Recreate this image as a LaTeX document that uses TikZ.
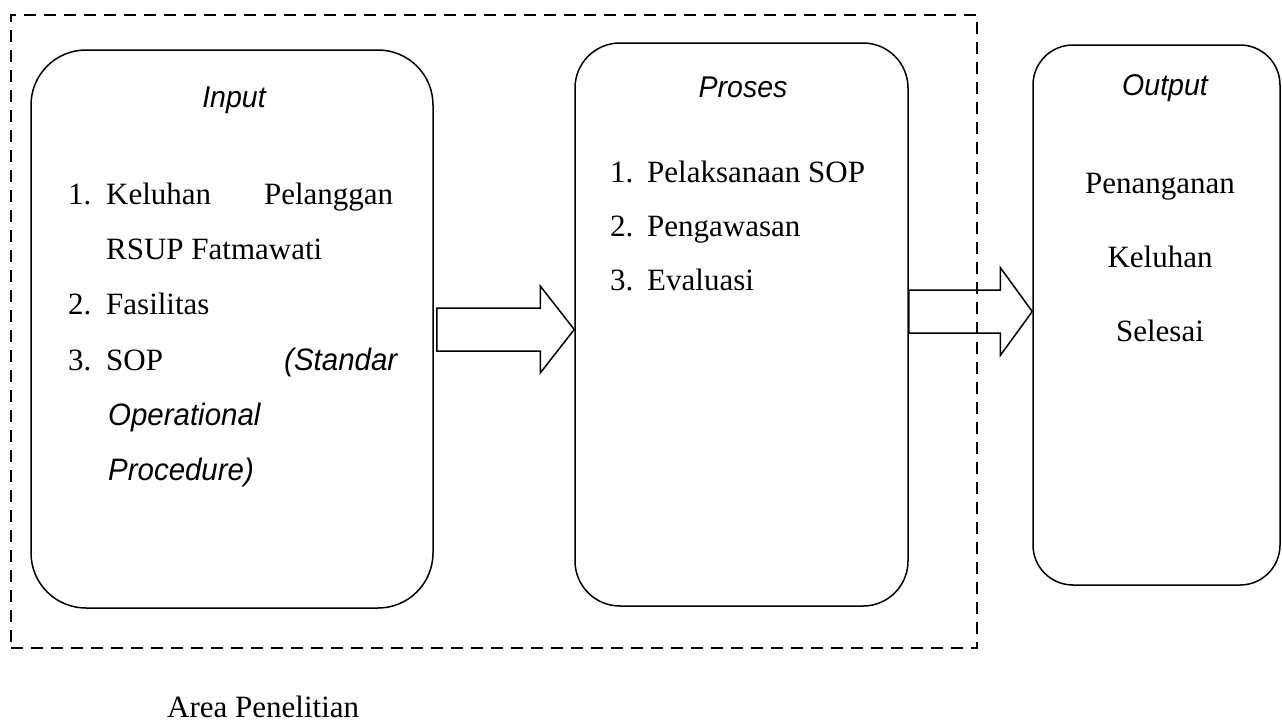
\documentclass[tikz,border=0pt]{standalone}
\usepackage{fontspec}
\setmainfont{Liberation Serif}
\newfontfamily\sansfam[FakeStretch=0.95]{Liberation Sans}
\usetikzlibrary{calc}
\newcommand\bodysz{\fontsize{31}{37}\selectfont}
\newcommand\headsz{\fontsize{30}{35}\selectfont}
\newcommand\itsz{\fontsize{31}{36}\selectfont}
\tikzset{
  box/.style={draw, line width=1.5pt, inner sep=0pt},
  areabox/.style={draw, line width=1.8pt, dash pattern=on 12pt off 8pt, inner sep=0pt},
  blockarrow/.style={draw, line width=1.5pt, line join=miter},
  txt/.style={anchor=base west, inner sep=0pt, font=\bodysz},
  ctxt/.style={anchor=base, inner sep=0pt, font=\bodysz},
  itxt/.style={anchor=base west, inner sep=0pt, font=\sansfam\itshape\itsz},
  head/.style={anchor=base, inner sep=0pt, font=\sansfam\itshape\headsz}
}
\begin{document}
\begin{tikzpicture}[x=1pt, y=-1pt]
\useasboundingbox (0,0) rectangle (1282,724);
% dashed research area
\node[areabox, minimum width=966pt, minimum height=633pt] (area) at (494,331.5) {};
% boxes
\node[box, rounded corners=55pt, minimum width=402pt, minimum height=558pt] (input) at (232,329) {};
\node[box, rounded corners=45pt, minimum width=333pt, minimum height=563pt] (proses) at (741.5,324.5) {};
\node[box, rounded corners=40pt, minimum width=247pt, minimum height=540pt] (output) at (1156.5,315) {};
% Input texts
\node[head] (hin) at (234,107) {Input};
\node[txt] (i1n) at (68,204) {1.};
\node[txt] (i1) at (106,204) {\makebox[287pt][l]{Keluhan\hfill Pelanggan}};
\node[txt] (i1b) at (106,259) {RSUP Fatmawati};
\node[txt] (i2n) at (68,314) {2.};
\node[txt] (i2) at (106,314) {Fasilitas};
\node[txt] (i3n) at (68,370) {3.};
\node[txt] (i3) at (106,370) {\makebox[291pt][l]{SOP\hfill{\sansfam\itshape\itsz (Standar}}};
\node[itxt] (i3b) at (108,425) {Operational};
\node[itxt] (i3c) at (108,480) {Procedure)};
% Proses texts
\node[head] (hpr) at (743,97) {Proses};
\node[txt] (p1n) at (610,182) {1.};
\node[txt] (p1) at (647,182) {Pelaksanaan SOP};
\node[txt] (p2n) at (610,236) {2.};
\node[txt] (p2) at (647,236) {Pengawasan};
\node[txt] (p3n) at (610,290) {3.};
\node[txt] (p3) at (647,290) {Evaluasi};
% Output texts
\node[head] (hout) at (1165,95) {Output};
\node[ctxt] (o1) at (1160,193) {Penanganan};
\node[ctxt] (o2) at (1160,267) {Keluhan};
\node[ctxt] (o3) at (1160,341) {Selesai};
% caption
\node[txt] (cap) at (167,717) {Area Penelitian};
% block arrows
\coordinate (s1) at ($(input.east |- 0,329.5)+(3,0)$);
\coordinate (t1) at (proses.west |- s1);
\draw[blockarrow] ($(s1)+(0,-21.5)$) -- ($(t1)+(-34,-21.5)$) -- ($(t1)+(-34,-43.5)$) -- (t1)
  -- ($(t1)+(-34,43.5)$) -- ($(t1)+(-34,21.5)$) -- ($(s1)+(0,21.5)$) -- cycle;
\coordinate (s2) at (proses.east |- 0,311.5);
\coordinate (t2) at (output.west |- s2);
\draw[blockarrow] ($(s2)+(0,-21.5)$) -- ($(t2)+(-32,-21.5)$) -- ($(t2)+(-32,-44)$) -- (t2)
  -- ($(t2)+(-32,44)$) -- ($(t2)+(-32,21.5)$) -- ($(s2)+(0,21.5)$) -- cycle;
\end{tikzpicture}
\end{document}
